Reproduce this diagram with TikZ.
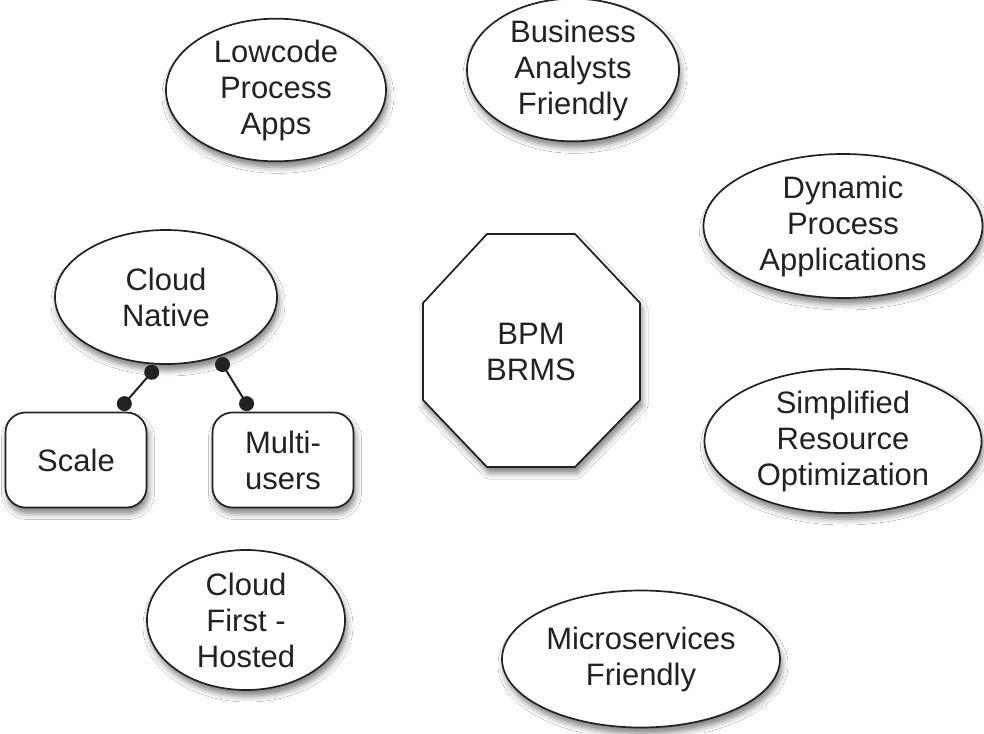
\documentclass[tikz,border=0pt]{standalone}
\usepackage{fontspec}
\setmainfont{Liberation Sans}
\usetikzlibrary{shapes.geometric,shadows.blur}
\definecolor{ink}{HTML}{222222}
\tikzset{
  shad/.style={blur shadow={shadow xshift=2pt,shadow yshift=-6pt,shadow blur radius=6pt,shadow opacity=50}},
  bubble/.style={ellipse,draw=ink,line width=1.7pt,fill=white,shad,inner sep=0pt,
    align=center,text=ink,font=\fontsize{31}{36}\selectfont},
  boxnode/.style={rectangle,rounded corners=20pt,draw=ink,line width=1.7pt,fill=white,shad,
    inner sep=0pt,align=center,text=ink,font=\fontsize{31}{36}\selectfont,
    minimum width=141pt,minimum height=95pt},
  link/.style={line width=2pt,draw=ink},
  knob/.style={fill=ink}
}
\begin{document}
\begin{tikzpicture}[x=1pt,y=-1pt]
\useasboundingbox (0,0) rectangle (984,733);
\fill[white] (0,0) rectangle (984,733);
% octagon
\path[draw=ink,line width=1.7pt,fill=white,shad]
  (487,234) -- (575,234) -- (640,303) -- (640,400) -- (575,467) -- (487,467) -- (423,400) -- (423,303) -- cycle;
\node[align=center,text=ink,font=\fontsize{31}{36}\selectfont] (bpm) at (531,352) {BPM\\BRMS};
% ellipses
\node[bubble,minimum width=220pt,minimum height=137pt] (low) at (276,90) {Lowcode\\Process\\Apps};
\node[bubble,minimum width=212pt,minimum height=140pt] (ba) at (573,70) {Business\\Analysts\\Friendly};
\node[bubble,minimum width=279pt,minimum height=144pt] (dyn) at (843,226) {Dynamic\\Process\\Applications};
\node[bubble,minimum width=222pt,minimum height=134pt] (cn) at (166,297) {Cloud\\Native};
\node[bubble,minimum width=277pt,minimum height=144pt] (sro) at (843,441) {Simplified\\Resource\\Optimization};
\node[bubble,minimum width=198pt,minimum height=140pt] (cf) at (246,620) {Cloud\\First -\\Hosted};
\node[bubble,minimum width=278pt,minimum height=137pt] (ms) at (641,659) {Microservices\\Friendly};
% boxes
\node[boxnode] (sc) at (76,460) {Scale};
\node[boxnode] (mu) at (283,460) {Multi-\\users};
% connectors
\coordinate (a1) at ([yshift=-8pt]cn.258);
\coordinate (a2) at ([yshift=8pt]sc.45);
\coordinate (b1) at ([yshift=-9pt]cn.314);
\coordinate (b2) at ([yshift=8pt]mu.127);
\draw[link] (a1) -- (a2);
\draw[link] (b1) -- (b2);
\foreach \p in {a1,a2,b1,b2} \fill[knob] (\p) circle (7.5pt);
\end{tikzpicture}
\end{document}
